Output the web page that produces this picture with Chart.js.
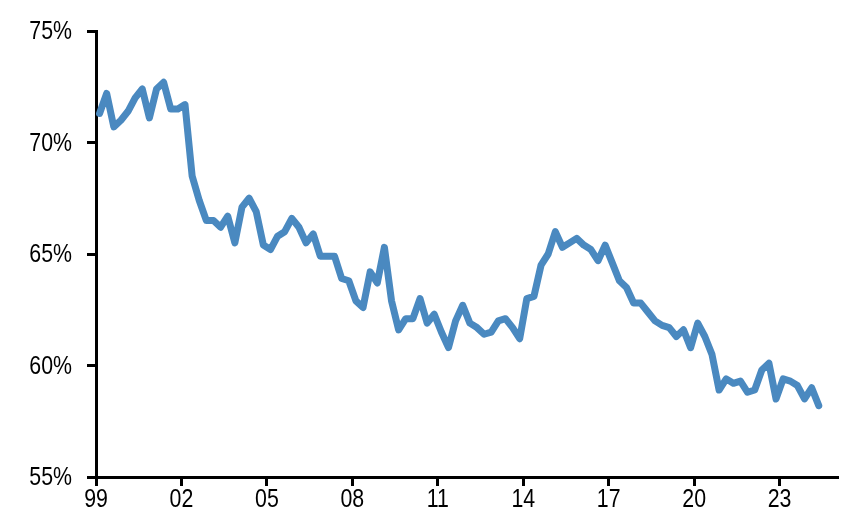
<!DOCTYPE html>
<html>
<head>
<meta charset="utf-8">
<script src="https://cdn.jsdelivr.net/npm/chart.js@4.4.1/dist/chart.umd.min.js"></script>
<style>
	body { margin: 0; background: #fff; }
	#wrap { width: 852px; height: 522px; }
</style>
</head>
<body>
<div id="wrap"><canvas id="myChart" width="852" height="522"></canvas></div>
<script>
// quarterly share, 1999Q1 .. 2024Q2 (%)
const firstYear = 1999;
const firstQuarter = 1;
const shareValues = [
	71.3, 72.2, 70.7, 71.0, 71.4, 72.0, 72.4, 71.1, 72.4, 72.7,
	71.5, 71.5, 71.7, 68.5, 67.4, 66.5, 66.5, 66.2, 66.7, 65.5,
	67.1, 67.5, 66.9, 65.4, 65.2, 65.8, 66.0, 66.6, 66.2, 65.5,
	65.9, 64.9, 64.9, 64.9, 63.9, 63.8, 62.9, 62.6, 64.2, 63.7,
	65.3, 62.9, 61.6, 62.1, 62.1, 63.0, 61.9, 62.3, 61.5, 60.8,
	62.0, 62.7, 61.9, 61.7, 61.4, 61.5, 62.0, 62.1, 61.7, 61.2,
	63.0, 63.1, 64.5, 65.0, 66.0, 65.3, 65.5, 65.7, 65.4, 65.2,
	64.7, 65.4, 64.6, 63.8, 63.5, 62.8, 62.8, 62.4, 62.0, 61.8,
	61.7, 61.3, 61.6, 60.8, 61.9, 61.3, 60.5, 58.9, 59.4, 59.2,
	59.3, 58.8, 58.9, 59.8, 60.1, 58.5, 59.4, 59.3, 59.1, 58.5,
	59.0, 58.2
];
const xTickYears = [1999, 2002, 2005, 2008, 2011, 2014, 2017, 2020, 2023];
const yTicks = [55, 60, 65, 70, 75];

// place each quarter in the middle of its span on a year axis
const points = shareValues.map((v, i) => {
	const q = firstQuarter - 1 + i;
	return { x: firstYear + Math.floor(q / 4) + ((q % 4) + 0.5) / 4, y: v };
});

// the original labels are a tall, narrow Arial: draw them squeezed sideways
const narrowLabels = {
	id: 'narrowLabels',
	afterDraw(chart) {
		const ctx = chart.ctx;
		const xs = chart.scales.x;
		const ys = chart.scales.y;
		ctx.save();
		ctx.fillStyle = '#000';
		ctx.font = "26px 'Liberation Sans', Arial, sans-serif";
		ctx.textBaseline = 'middle';
		ctx.textAlign = 'right';
		ys.ticks.forEach((t) => {
			ctx.save();
			ctx.translate(ys.right - 24, ys.getPixelForValue(t.value) + 1);
			ctx.scale(0.82, 1);
			ctx.fillText(t.value + '%', 0, 0);
			ctx.restore();
		});
		ctx.textAlign = 'center';
		xs.ticks.forEach((t) => {
			ctx.save();
			ctx.translate(xs.getPixelForValue(t.value), xs.top + 23);
			ctx.scale(0.82, 1);
			ctx.fillText(String(t.value).slice(2), 0, 0);
			ctx.restore();
		});
		ctx.restore();
	},
};

const chart_config = {
	type: 'line',
	data: {
		datasets: [
			{
				data: points,
				borderColor: '#4a89c0',
				borderWidth: 7,
				borderJoinStyle: 'round',
				borderCapStyle: 'round',
				pointRadius: 0,
				tension: 0,
				fill: false,
			},
		],
	},
	options: {
		responsive: false,
		animation: false,
		layout: { padding: { top: 31, right: 14, left: 0, bottom: 0 } },
		plugins: { legend: { display: false }, tooltip: { enabled: false } },
		scales: {
			x: {
				type: 'linear',
				min: 1999,
				max: 2025.05,
				border: { display: true, color: '#000', width: 3 },
				grid: {
					drawOnChartArea: false,
					drawTicks: true,
					tickLength: 9,
					tickWidth: 3,
					tickColor: '#000',
				},
				afterBuildTicks: (scale) => {
					scale.ticks = xTickYears.map((v) => ({ value: v }));
				},
				afterFit: (scale) => {
					scale.height = 45;
				},
				ticks: { display: false },
			},
			y: {
				min: 55,
				max: 75,
				border: { display: true, color: '#000', width: 3 },
				grid: {
					drawOnChartArea: false,
					drawTicks: true,
					tickLength: 9,
					tickWidth: 3,
					tickColor: '#000',
				},
				afterBuildTicks: (scale) => {
					scale.ticks = yTicks.map((v) => ({ value: v }));
				},
				afterFit: (scale) => {
					scale.width = 96;
				},
				ticks: { display: false },
			},
		},
	},
	plugins: [narrowLabels],
};

var ctx = document.getElementById('myChart').getContext('2d');
myChart = new Chart(ctx, chart_config);
</script>
</body>
</html>
